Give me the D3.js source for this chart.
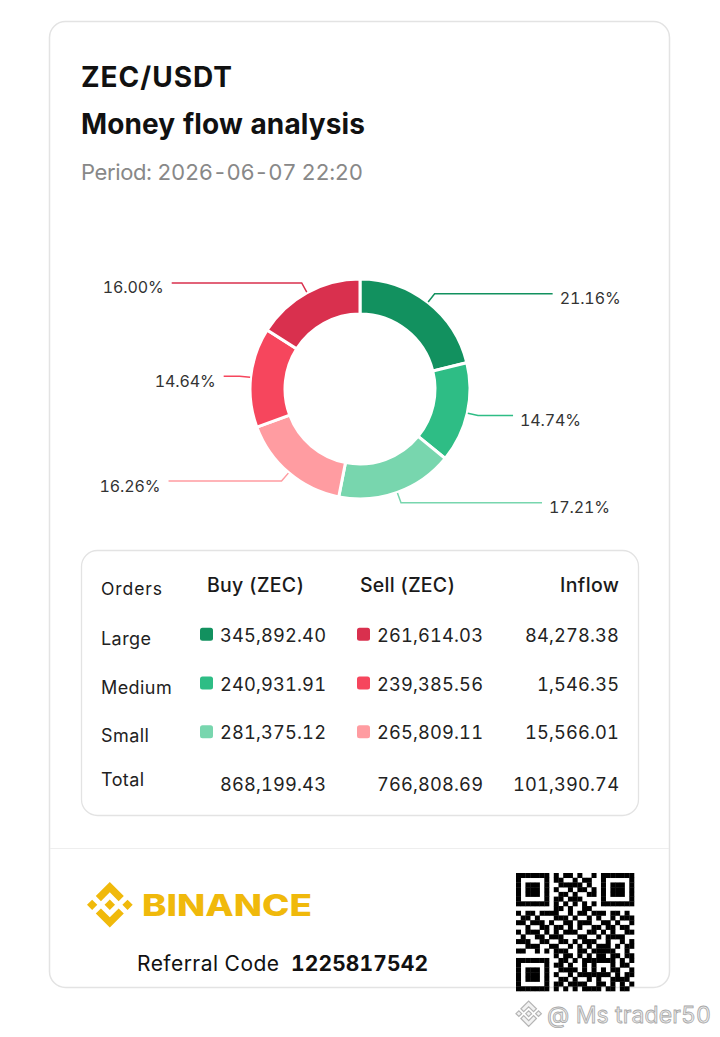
<!DOCTYPE html>
<html><head><meta charset="utf-8">
<script src="https://cdn.jsdelivr.net/npm/d3@7"></script>
<style>
html,body{margin:0;padding:0;background:#fff;}
svg{display:block;font-family:Inter,"Open Sans",sans-serif;font-variant-numeric:tabular-nums;font-feature-settings:"tnum" 1;}
</style></head>
<body>
<svg id="c" width="720" height="1037"></svg>
<script>
// ---------- data ----------
const pair = "ZEC/USDT";
const title = "Money flow analysis";
const period = "Period: 2026-06-07 22:20";
const orders = ["Large", "Medium", "Small"];
const buyValues = [345892.40, 240931.91, 281375.12];
const sellValues = [261614.03, 239385.56, 265809.11];
const inflowValues = [84278.38, 1546.35, 15566.01];
const totalValues = [868199.43, 766808.69, 101390.74];
const headers = ["Orders", "Buy (ZEC)", "Sell (ZEC)", "Inflow"];
const buyColors = ["#12915f", "#2ebd85", "#78d6ae"];
const sellColors = ["#d9304e", "#f6465d", "#ff9ca1"];
const referralLabel = "Referral Code";
const referralCode = "1225817542";
const watermark = "@ Ms trader50";
const qrRows = [
"1111111010110100101111111",
"1000001011001011001000001",
"1011101001111101001011101",
"1011101010010110101011101",
"1011101001101001101011101",
"1000001011011100001000001",
"1111111010101010101111111",
"0000000011010011000000000",
"1011011110010110111011010",
"0110100011101001010010111",
"1101110100110111001101001",
"0010011011010100110110110",
"1011101010111001101010011",
"0100110111000110010111100",
"1110011001101011100100101",
"0011100110010101011101011",
"1100101011100110111110010",
"0000000010110101011011011",
"1111111001101011111110101",
"1000001011010010100010110",
"1011101001111010101011001",
"1011101010010111111101011",
"1011101001101001010011110",
"1000001011011110011010101",
"1111111010101011110110110"
];

// ---------- style / layout config ----------
const leaderLen2 = [118, 35, 141, 113, 16, 130];

const svg = d3.select("#c");
const fmt = d3.format(",.2f");
const pct = d3.format(".2%");

// letter-spacing helper: stretch a text to a target advance width
function spacing(sel, target) {
  const s = sel.text();
  const w = sel.node().getComputedTextLength();
  return (target - w) / Math.max(1, s.length - 1);
}
function applySpacing(sel, ls) {
  sel.attr("letter-spacing", ls);
  if (sel.attr("text-anchor") === "end") sel.attr("x", +sel.attr("x") + ls);
  return sel;
}
function fit(sel, target) { return applySpacing(sel, spacing(sel, target)); }

// card
svg.append("rect").attr("x", 49.5).attr("y", 21.5).attr("width", 620).attr("height", 966)
  .attr("rx", 16).attr("fill", "#fff").attr("stroke", "#e3e3e3").attr("stroke-width", 1.5);
svg.append("line").attr("x1", 50).attr("x2", 669).attr("y1", 848.5).attr("y2", 848.5)
  .attr("stroke", "#eeeeee").attr("stroke-width", 1.2);

// titles
fit(svg.append("text").attr("x", 81).attr("y", 87).attr("font-size", 28).attr("font-weight", 700)
  .attr("fill", "#111").text(pair), 151);
fit(svg.append("text").attr("x", 81).attr("y", 134).attr("font-size", 28).attr("font-weight", 700)
  .attr("fill", "#111").text(title), 284);
fit(svg.append("text").attr("x", 81).attr("y", 180).attr("font-size", 22).attr("font-weight", 400)
  .attr("fill", "#888").text(period), 282);

// ---------- donut ----------
const sliceValues = buyValues.concat(sellValues.slice().reverse());
const sliceColors = buyColors.concat(sellColors.slice().reverse());
const total = d3.sum(sliceValues);
const cx = 360, cy = 389, rOut = 110, rIn = 75;
const pie = d3.pie().sort(null).value(d => d);
const arcs = pie(sliceValues);
const arc = d3.arc().innerRadius(rIn).outerRadius(rOut);
const g = svg.append("g").attr("transform", `translate(${cx},${cy})`);
g.selectAll("path.s").data(arcs).join("path").attr("class", "s")
  .attr("d", arc).attr("fill", (d, i) => sliceColors[i])
  .attr("stroke", "#fff").attr("stroke-width", 3).attr("stroke-linejoin", "miter");

const r1 = d3.arc().innerRadius(110.5).outerRadius(110.5);
const r2 = d3.arc().innerRadius(121).outerRadius(121);
let pctLS = null;
arcs.forEach((d, i) => {
  const p1 = r1.centroid(d), p2 = r2.centroid(d);
  const mid = (d.startAngle + d.endAngle) / 2;
  const right = mid < Math.PI;
  const x3 = p2[0] + (right ? 1 : -1) * leaderLen2[i];
  g.append("polyline").attr("points", [p1, p2, [x3, p2[1]]].map(p => p.join(",")).join(" "))
    .attr("fill", "none").attr("stroke", sliceColors[i]).attr("stroke-width", 1.5);
  const t = g.append("text").attr("x", x3 + (right ? 7 : -8)).attr("y", p2[1] + 10.5)
    .attr("text-anchor", right ? "start" : "end").attr("font-size", 16).attr("fill", "#333")
    .text(pct(d.value / total));
  if (pctLS === null) pctLS = spacing(t, 61);
  applySpacing(t, pctLS);
});

// ---------- table ----------
svg.append("rect").attr("x", 81.5).attr("y", 550.5).attr("width", 557).attr("height", 265)
  .attr("rx", 16).attr("fill", "#fff").attr("stroke", "#e3e3e3").attr("stroke-width", 1.3);

const rowY = d3.scalePoint().domain(["head"].concat(orders, ["Total"])).range([593, 788]);
const colX = { label: 101, buySq: 200, buyVal: 326, sellSq: 357, sellVal: 483, inflow: 619 };

fit(svg.append("text").attr("x", colX.label).attr("y", rowY("head") + 2).attr("font-size", 17.5)
  .attr("fill", "#1a1a1a").text(headers[0]), 61);
fit(svg.append("text").attr("x", 207).attr("y", rowY("head") - 1).attr("font-size", 19.5)
  .attr("font-weight", 500).attr("fill", "#1a1a1a").text(headers[1]), 97);
fit(svg.append("text").attr("x", 360).attr("y", rowY("head") - 1).attr("font-size", 19.5)
  .attr("font-weight", 500).attr("fill", "#1a1a1a").text(headers[2]), 95);
fit(svg.append("text").attr("x", colX.inflow).attr("y", rowY("head") - 1).attr("font-size", 19.5)
  .attr("font-weight", 500).attr("text-anchor", "end").attr("fill", "#1a1a1a").text(headers[3]), 59);

let valLS = null, labLS = null;
function valText(x, y, v) {
  const t = svg.append("text").attr("x", x).attr("y", y).attr("font-size", 18.3)
    .attr("text-anchor", "end").attr("fill", "#222").text(fmt(v));
  if (valLS === null) valLS = spacing(t, 106);
  return applySpacing(t, valLS);
}
function labText(y, s) {
  const t = svg.append("text").attr("x", colX.label).attr("y", y).attr("font-size", 18)
    .attr("fill", "#222").text(s);
  if (labLS === null) labLS = spacing(t, 50);
  return applySpacing(t, labLS);
}
orders.forEach((o, i) => {
  const y = rowY(o);
  labText(y + 3, o);
  svg.append("rect").attr("x", colX.buySq).attr("y", y - 14).attr("width", 13).attr("height", 13)
    .attr("rx", 2.5).attr("fill", buyColors[i]);
  valText(colX.buyVal, y, buyValues[i]);
  svg.append("rect").attr("x", colX.sellSq).attr("y", y - 14).attr("width", 13).attr("height", 13)
    .attr("rx", 2.5).attr("fill", sellColors[i]);
  valText(colX.sellVal, y, sellValues[i]);
  valText(colX.inflow, y, inflowValues[i]);
});
const ty = rowY("Total");
labText(ty - 2, "Total");
[colX.buyVal, colX.sellVal, colX.inflow].forEach((x, i) => valText(x, ty + 2.5, totalValues[i]));

// ---------- footer ----------
const logoPath1 = "M38.73 53.2l24.59-24.58 24.6 24.6 14.3-14.31L63.32 0 24.42 38.9l14.31 14.3zM0 63.31l14.3-14.31 14.31 14.31-14.31 14.3zM38.73 73.41l24.59 24.59 24.6-24.6 14.31 14.29-38.9 38.91-38.91-38.88-.02-.02 14.33-14.29zM98.3 63.31l14.3-14.31 14.31 14.3-14.31 14.32z";
const logoPath2 = "M77.83 63.3L63.32 48.78 52.59 59.51l-1.24 1.23-2.54 2.54-.02.02.02.03 14.51 14.5 14.51-14.52.01-.01-.01-.01z";
const logo = svg.append("g").attr("transform", "translate(87,882) scale(0.36)").attr("fill", "#f0b90b");
logo.append("path").attr("d", logoPath1);
logo.append("path").attr("d", logoPath2);
svg.append("text").attr("x", 142).attr("y", 916).attr("font-size", 30).attr("font-weight", 800)
  .attr("fill", "#f0b90b").attr("textLength", 170).attr("lengthAdjust", "spacingAndGlyphs").text("BINANCE");

fit(svg.append("text").attr("x", 137).attr("y", 971).attr("font-size", 21).attr("fill", "#111")
  .text(referralLabel), 142);
fit(svg.append("text").attr("x", 291).attr("y", 971).attr("font-size", 21).attr("font-weight", 700)
  .attr("fill", "#111").text(referralCode), 137);

// QR
const qn = qrRows.length;
const qx = d3.scaleBand().domain(d3.range(qn)).range([516, 634]);
const qy = d3.scaleBand().domain(d3.range(qn)).range([873, 991]);
const cells = [];
qrRows.forEach((row, r) => row.split("").forEach((c, k) => { if (c === "1") cells.push([r, k]); }));
svg.append("g").selectAll("rect").data(cells).join("rect")
  .attr("x", d => qx(d[1])).attr("y", d => qy(d[0]))
  .attr("width", qx.bandwidth() + 0.3).attr("height", qy.bandwidth() + 0.3).attr("fill", "#000");

// watermark
const wm = svg.append("g").attr("transform", "translate(516,1001) scale(0.2)")
  .attr("fill", "#f2f2f2").attr("stroke", "#b5b5b5").attr("stroke-width", 6);
wm.append("path").attr("d", logoPath1);
wm.append("path").attr("d", logoPath2);
fit(svg.append("text").attr("x", 547).attr("y", 1023).attr("font-size", 23)
  .attr("fill", "#ececec").attr("stroke", "#a8a8a8").attr("stroke-width", 0.8)
  .text(watermark), 164);
</script>
</body></html>
